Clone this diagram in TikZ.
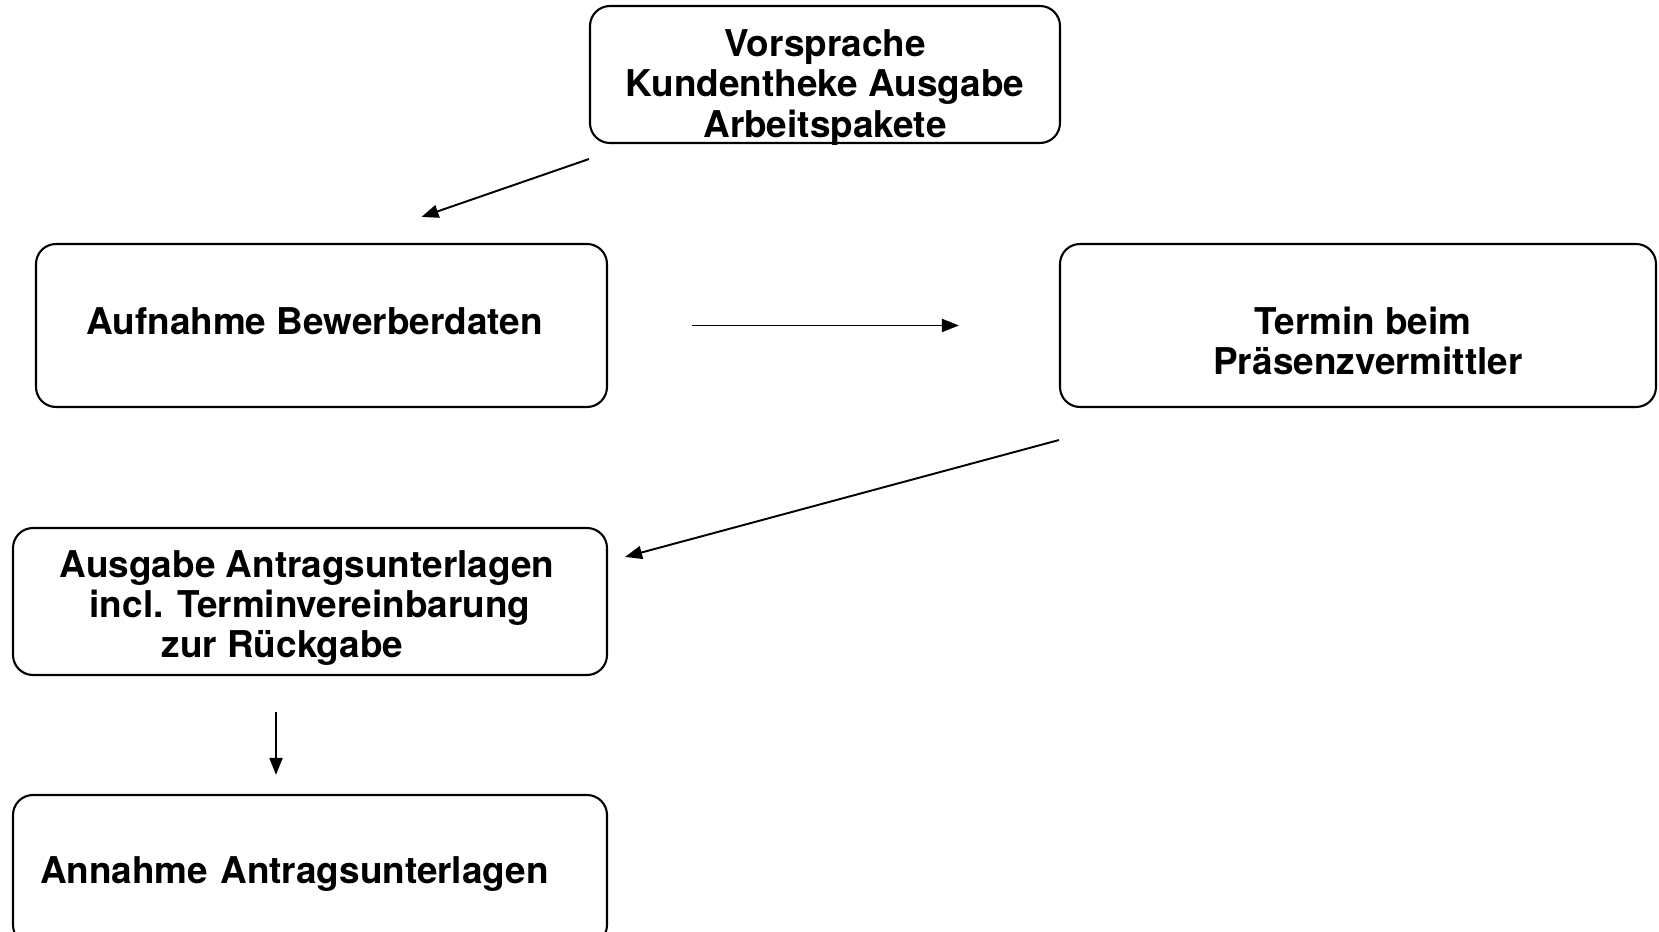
\documentclass[tikz,border=0pt]{standalone}
\usepackage{fontspec}
\setmainfont{TeX Gyre Heros}
\usetikzlibrary{arrows.meta,calc}
\definecolor{figline}{RGB}{0,0,0}
\tikzset{
  box/.style ={draw=figline, line width=0.6pt, rounded corners=0.2cm, align=center,
               inner sep=2pt, font=\fontsize{10.5}{11.4}\selectfont\bfseries},
  ptr/.style ={draw=figline, line width=0.55pt, -{Triangle[length=0.17cm,width=0.13cm]}},
}
\begin{document}
\begin{tikzpicture}
  \useasboundingbox (0,0) rectangle (16.59,9.32);
  % boxes
  \node[box,inner ysep=0.03cm,minimum width=4.70cm,minimum height=1.37cm] (vorsprache) at (8.25,8.575)
    {\rule{0pt}{0.45cm}Vorsprache\\Kundentheke Ausgabe\\\smash{Arbeitspakete}};
  \node[box,minimum width=5.71cm,minimum height=1.63cm] (aufnahme) at (3.215,6.065)
    {Aufnahme Bewerberdaten\hspace*{0.14cm}\rule[-0.08cm]{0pt}{0.08cm}};
  \node[box,minimum width=5.96cm,minimum height=1.63cm] (termin) at (13.58,6.065)
    {\rule{0pt}{0.58cm}\hspace*{0.1cm}Termin beim\\\hspace*{0.2cm}Präsenzvermittler};
  \node[box,minimum width=5.94cm,minimum height=1.47cm] (ausgabe) at (3.10,3.305)
    {\rule{0pt}{0.40cm}Ausgabe Antragsunterlagen\hspace*{0.06cm}\\incl. Terminvereinbarung\hspace*{0.2cm}\\zur Rückgabe\hspace*{0.55cm}};
  \node[box,text width=5.40cm,align=left,inner xsep=0.27cm,minimum height=1.50cm] (annahme) at (3.10,0.62)
    {\rule{0pt}{0.35cm}Annahme Antragsunterlagen};
  % free ends
  \coordinate (a1s) at ($(vorsprache.south west)+(0,-0.15)$);
  \coordinate (a1e) at ($(aufnahme.north)+(1.0,0.26)$);
  \coordinate (a2s) at ($(aufnahme.east)+(0.84,0)$);
  \coordinate (a2e) at ($(termin.west)+(-1.0,0)$);
  \coordinate (a3s) at ($(termin.south west)+(0,-0.32)$);
  \coordinate (a3e) at ($(ausgabe.north east)+(0.17,-0.30)$);
  \coordinate (a4s) at ($(ausgabe.south)+(-0.34,-0.36)$);
  \coordinate (a4e) at ($(annahme.north)+(-0.34,0.19)$);
  \draw[ptr] (a1s) -- (a1e);
  \draw[ptr] (a2s) -- (a2e);
  \draw[ptr] (a3s) -- (a3e);
  \draw[ptr] (a4s) -- (a4e);
\end{tikzpicture}
\end{document}
